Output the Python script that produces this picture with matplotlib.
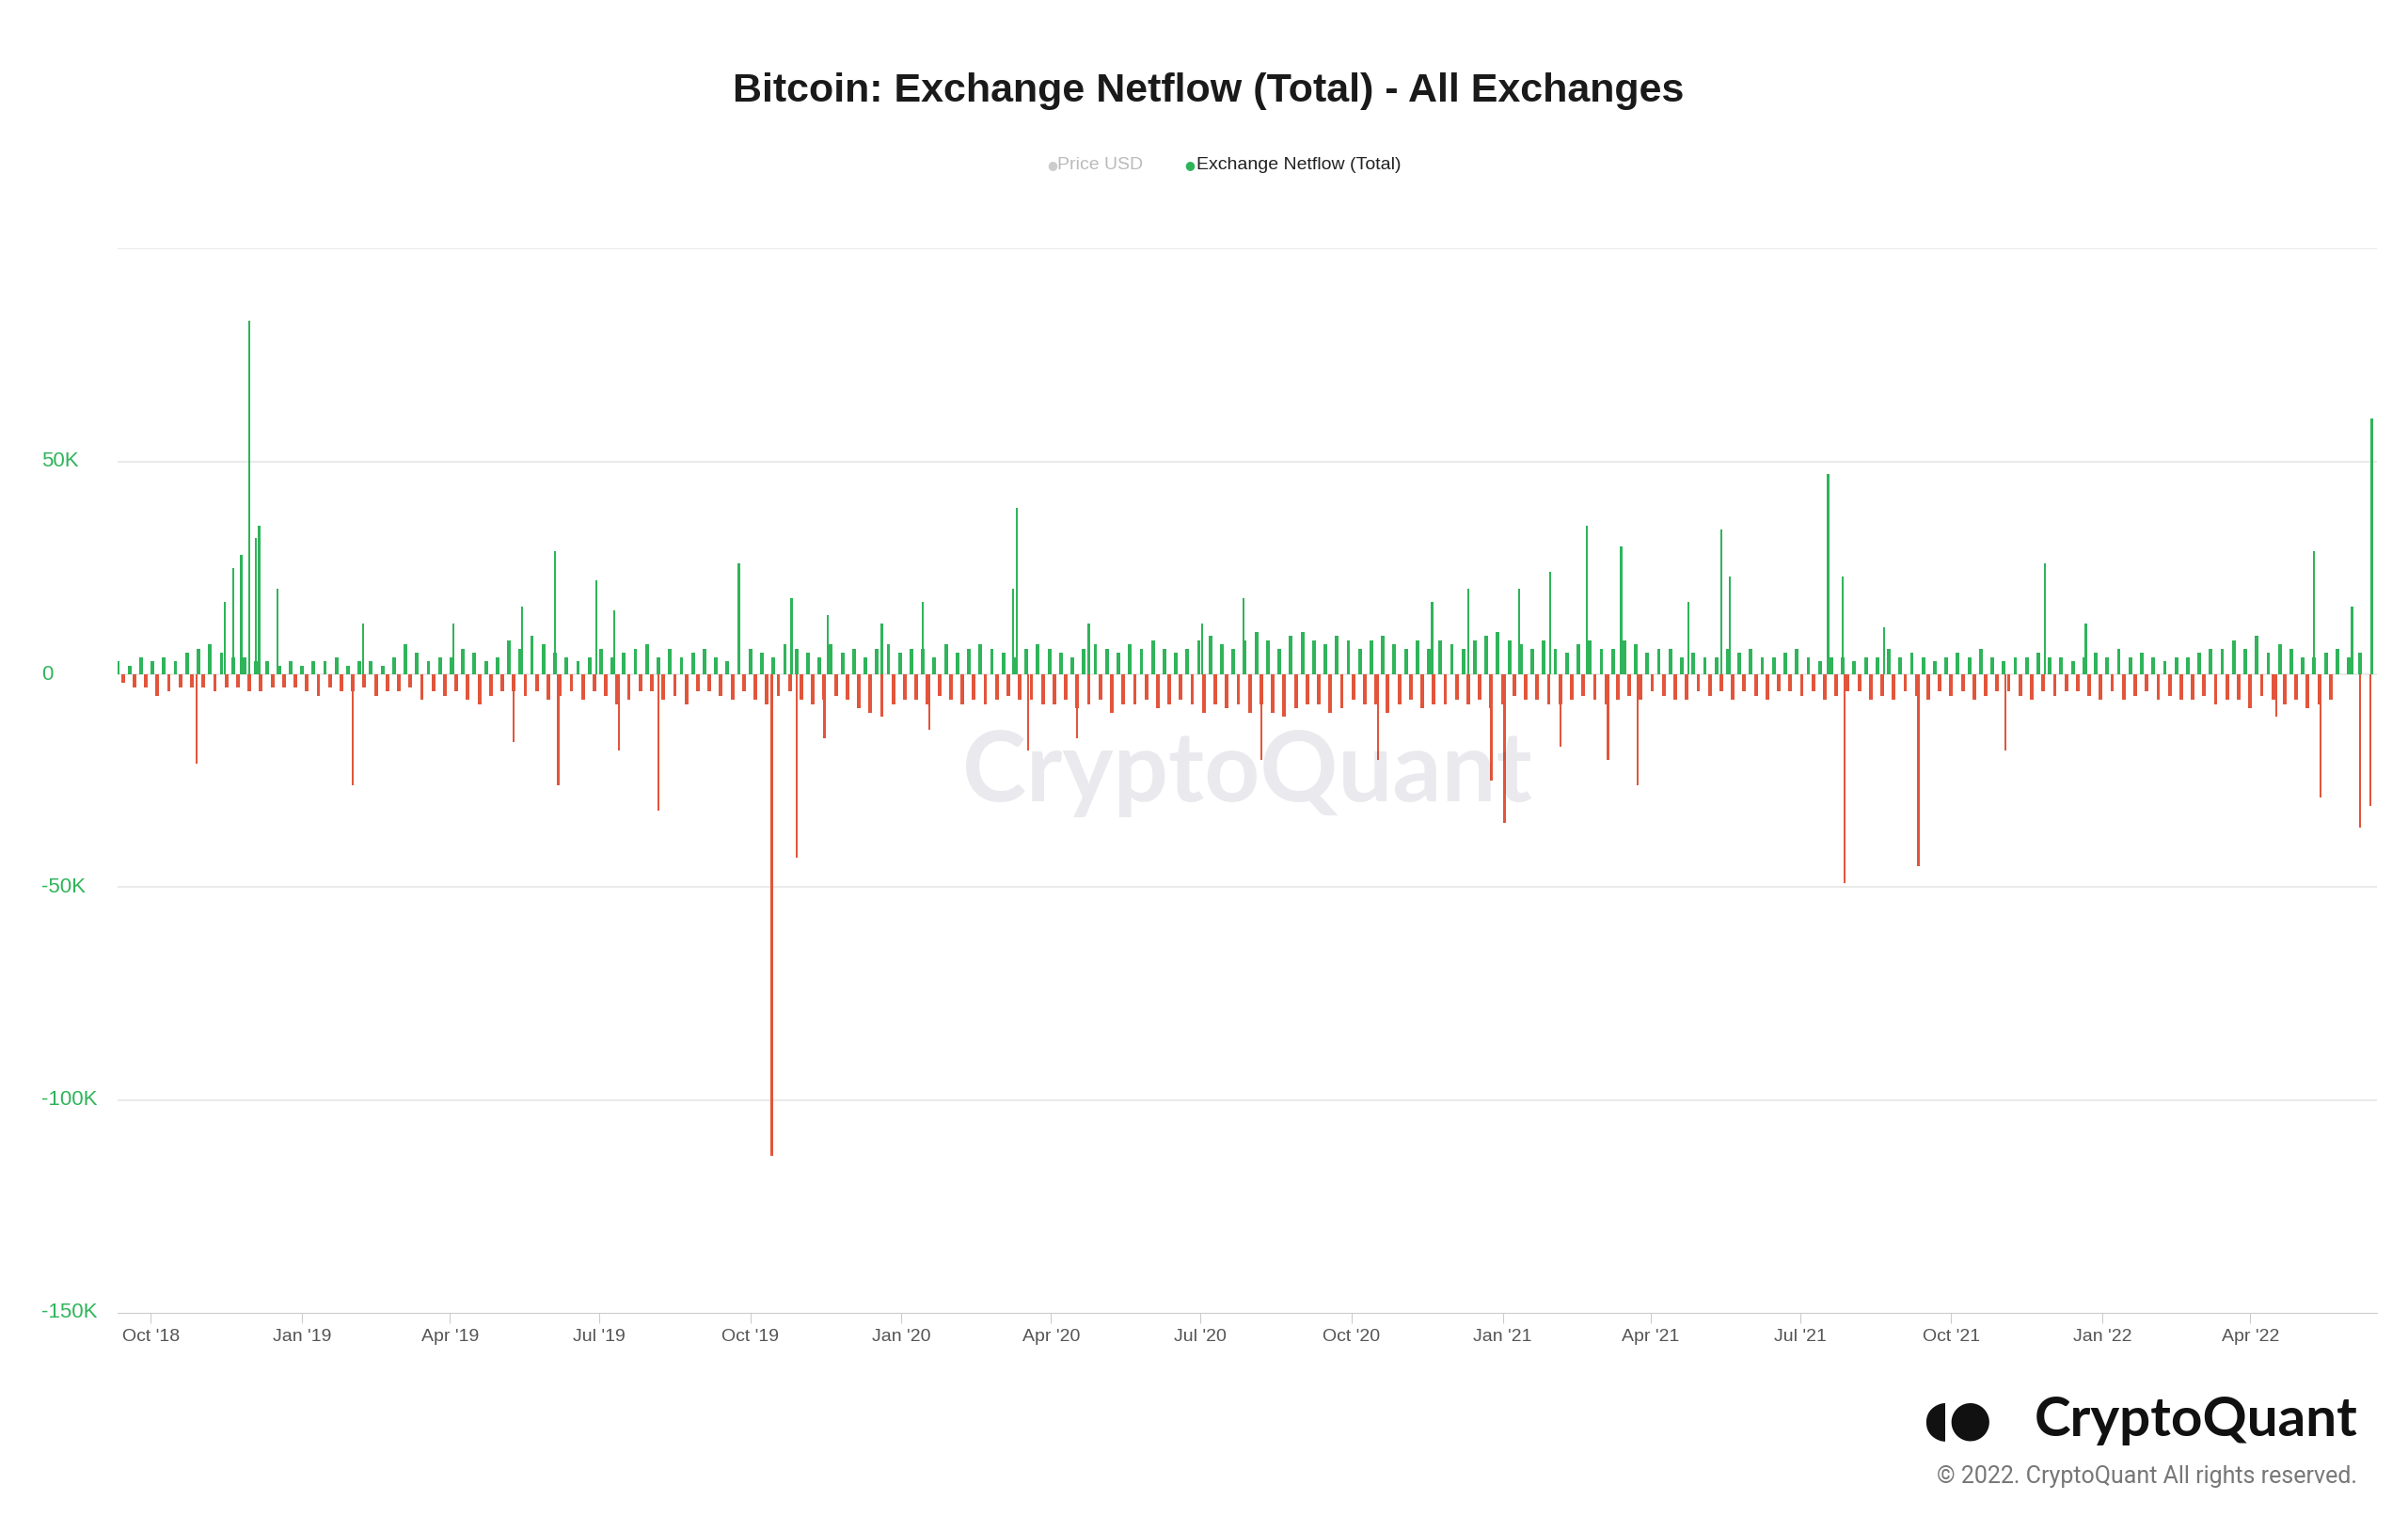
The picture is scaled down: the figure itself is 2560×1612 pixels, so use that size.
import pandas as pd
import numpy as np
import matplotlib.pyplot as plt
import matplotlib.dates as mdates

plt.rcParams["font.family"] = ["Liberation Sans", "DejaVu Sans"]

# weekly typical inflow / outflow levels (BTC thousands)
start = "2018-09-11"
weekly_in = [3, 2, 4, 3, 4, 3, 5, 6, 7, 5, 4, 4, 3, 3, 2, 3, 2, 3, 3, 4, 2, 3, 3, 2, 4, 7, 5, 3,
             4, 4, 6, 5, 3, 4, 8, 6, 9, 7, 5, 4, 3, 4, 6, 4, 5, 6, 7, 4, 6, 4, 5, 6, 4, 3,
             4, 6, 5, 4, 7, 6, 5, 4, 7, 5, 6, 4, 6, 7, 5, 6, 6, 4, 7, 5, 6, 7, 6, 5, 4, 6,
             7, 6, 5, 4, 6, 7, 6, 5, 7, 6, 8, 6, 5, 6, 8, 9, 7, 6, 8, 10, 8, 6, 9, 10,
             8, 7, 9, 8, 6, 8, 9, 7, 6, 8, 6, 8, 7, 6, 8, 9, 10, 8, 7, 6, 8, 6,
             5, 7, 8, 6, 6, 8, 7, 5, 6, 6, 4, 5, 4, 4, 6, 5, 6, 4, 4, 5, 6, 4, 3, 4, 4, 3,
             4, 4, 6, 4, 5, 4, 3, 4, 5, 4, 6, 4, 3, 4, 4, 5, 4, 4, 3, 4, 5, 4, 6, 4, 5, 4, 3, 4,
             4, 5, 6, 6, 8, 6, 9, 5, 7, 6, 4, 4, 5, 6, 4, 5, 6]
weekly_out = [2, 3, 3, 5, 4, 3, 3, 3, 4, 3, 3, 4, 4, 3, 3, 3, 4, 5, 3, 4, 4, 3, 5, 4, 4, 3, 6, 4,
              5, 4, 6, 7, 5, 4, 4, 5, 4, 6, 5, 4, 6, 4, 5, 7, 6, 4, 4, 6, 5, 7, 4, 4, 5, 6,
              4, 6, 7, 5, 4, 6, 7, 6, 5, 6, 8, 9, 10, 7, 6, 6, 7, 5, 6, 7, 6, 7, 6, 5,
              6, 6, 7, 7, 6, 8, 7, 6, 9, 7, 7, 6, 8, 7, 6, 7, 9, 7, 8, 7, 9, 7,
              9, 10, 8, 7, 7, 9, 8, 6, 7, 7, 9, 7, 6, 8, 7, 7, 6, 7, 6, 8, 7, 5,
              6, 6, 7, 7, 6, 5, 6, 7, 6, 5, 6, 4, 5, 6, 6, 4, 5, 4, 6, 4, 5, 6, 4, 4, 5, 4,
              6, 5, 4, 4, 6, 5, 6, 4, 5, 6, 4, 5, 4, 6, 5, 4, 4, 5, 6, 4, 5, 4, 4, 5, 6, 4, 6, 5,
              4, 6, 5, 6, 6, 5, 7, 6, 6, 8, 5, 6, 7, 6, 8, 7, 6]

# notable single-day spikes (BTC thousands)
spike_dates = ["2018-10-29", "2018-11-15", "2018-11-20", "2018-11-25", "2018-11-30", "2018-12-04",
               "2018-12-06", "2018-12-17", "2019-02-01", "2019-02-07", "2019-04-03", "2019-05-10",
               "2019-05-15", "2019-06-04", "2019-06-06", "2019-06-29", "2019-07-10", "2019-07-13",
               "2019-08-06", "2019-09-24", "2019-10-14", "2019-10-26", "2019-10-29", "2019-11-15",
               "2019-11-17", "2019-12-20", "2020-01-14", "2020-01-18", "2020-03-09", "2020-03-11",
               "2020-03-18", "2020-04-17", "2020-04-24", "2020-07-02", "2020-07-27", "2020-08-07",
               "2020-10-17", "2020-11-19", "2020-12-11", "2020-12-25", "2021-01-02", "2021-01-11",
               "2021-01-30", "2021-02-05", "2021-02-21", "2021-03-06", "2021-03-14", "2021-03-24",
               "2021-04-24", "2021-05-14", "2021-05-19", "2021-07-18", "2021-07-27", "2021-07-28",
               "2021-08-21", "2021-09-11", "2021-11-03", "2021-11-27", "2021-12-22", "2022-04-17",
               "2022-05-10", "2022-05-14", "2022-06-02", "2022-06-07", "2022-06-13", "2022-06-14"]
spike_values = [-21, 17, 25, 28, 83, 32, 35, 20, -26, 12, 12, -16, 16, 29, -26, 22, 15, -18,
                -32, 26, -113, 18, -43, -15, 14, 12, 17, -13, 20, 39, -18, -15, 12, 12, 18, -20,
                -20, 17, 20, -25, -35, 20, 24, -17, 35, -20, 30, -26, 17, 34, 23, 47, 23, -49,
                11, -45, -18, 26, 12, -10, 29, -29, 16, -36, -31, 60]

GREEN = "#2fb45a"
RED = "#e2553b"

fig = plt.figure(figsize=(25.6, 16.12), dpi=100)
ax = fig.add_axes([0.049, 0.134, 0.938, 0.702])

d_in = pd.date_range(start, periods=len(weekly_in), freq="7D")
d_out = pd.date_range(pd.Timestamp(start) + pd.Timedelta(days=3), periods=len(weekly_out), freq="7D")
ax.bar(d_in, np.array(weekly_in) * 1000, width=2.2, color=GREEN, linewidth=0)
ax.bar(d_out, -np.array(weekly_out) * 1000, width=2.2, color=RED, linewidth=0)
sv = np.array(spike_values) * 1000
ax.bar(pd.to_datetime(spike_dates), sv, width=1.3, color=[GREEN if v > 0 else RED for v in sv],
       linewidth=0)

ax.set_xlim(pd.Timestamp("2018-09-11"), pd.Timestamp("2022-06-17"))
ax.set_ylim(-150000, 100000)
for s in ax.spines.values():
    s.set_visible(False)
ax.spines["bottom"].set_visible(True)
ax.spines["bottom"].set_color("#cccccc")
for yv in [100000, 50000, 0, -50000, -100000]:
    ax.axhline(yv, color="#e6e6e6", lw=1.2, zorder=0)
ax.set_yticks([])
for yv, lab in [(50000, "50K"), (0, "0"), (-50000, "-50K"), (-100000, "-100K"), (-150000, "-150K")]:
    ax.text(-0.034, yv, lab, transform=ax.get_yaxis_transform(), color=GREEN,
            fontsize=16, va="center", ha="left")

ax.xaxis.set_major_locator(mdates.MonthLocator(bymonth=[1, 4, 7, 10]))
ax.xaxis.set_major_formatter(mdates.DateFormatter("%b '%y"))
ax.tick_params(axis="x", colors="#cccccc", labelcolor="#555555", labelsize=14, length=8, pad=4)

fig.text(0.502, 0.94, "Bitcoin: Exchange Netflow (Total) - All Exchanges", ha="center", va="center",
         fontsize=31, fontweight="bold", color="#1a1a1a")
fig.text(0.435, 0.891, "\u25CF", color="#cccccc", fontsize=9, ha="left", va="center",
         family="DejaVu Sans")
fig.text(0.439, 0.891, "Price USD", color="#bbbbbb", fontsize=14, ha="left", va="center")
fig.text(0.492, 0.891, "\u25CF", color=GREEN, fontsize=9, ha="left", va="center",
         family="DejaVu Sans")
fig.text(0.497, 0.891, "Exchange Netflow (Total)", color="#222222", fontsize=14, ha="left", va="center")

fig.text(0.518, 0.49, "CryptoQuant", ha="center", va="center", fontsize=74, fontweight="bold",
         color="#1b1b4a", alpha=0.09, family="Lato")

fig.text(0.979, 0.063, "CryptoQuant", ha="right", va="center", fontsize=42, fontweight="bold",
         color="#111111", family="Lato")
fig.text(0.813, 0.063, "\u25D6\u25CF", ha="center", va="center", fontsize=38, color="#111111",
         family="DejaVu Sans")
fig.text(0.979, 0.026, "\u00A9 2022. CryptoQuant All rights reserved.", ha="right", va="center",
         fontsize=18, color="#777777", family="Roboto")

fig.savefig("out.png", dpi=100, facecolor="white")
